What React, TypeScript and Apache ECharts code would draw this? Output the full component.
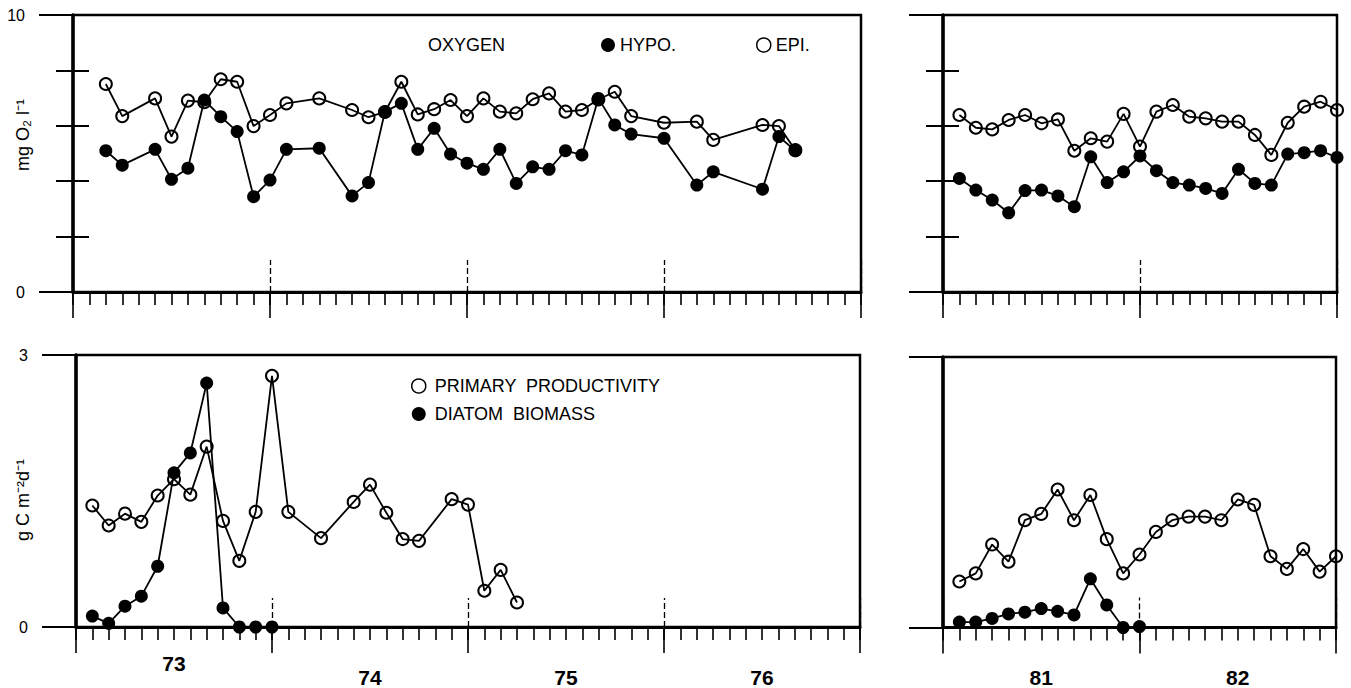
import React, { useEffect, useRef } from "react";
import * as echarts from "echarts";

const FONT = '"Liberation Sans", Arial, Helvetica, sans-serif';

// ---- Oxygen, 1973-1976 (month index from Jan 1973) ----
const oxyMonthsA = [2, 3, 5, 6, 7, 8, 9, 10, 11, 12, 13, 15, 17, 18, 19, 20, 21, 22, 23, 24, 25, 26, 27, 28, 29, 30, 31, 32, 33, 34, 36, 38, 39, 42, 43, 44];
const epiA = [7.51, 6.35, 6.99, 5.61, 6.91, 6.85, 7.68, 7.59, 5.99, 6.39, 6.81, 6.99, 6.57, 6.31, 6.5, 7.59, 6.41, 6.6, 6.93, 6.35, 6.99, 6.51, 6.45, 6.96, 7.17, 6.51, 6.57, 6.95, 7.23, 6.35, 6.11, 6.15, 5.49, 6.03, 5.99, 5.12];
const hypoA = [5.1, 4.58, 5.15, 4.07, 4.47, 6.93, 6.33, 5.79, 3.44, 4.04, 5.15, 5.19, 3.47, 3.95, 6.51, 6.81, 5.15, 5.91, 4.98, 4.65, 4.43, 5.15, 3.92, 4.52, 4.43, 5.1, 4.95, 6.99, 6.03, 5.7, 5.55, 3.86, 4.34, 3.71, 5.61, 5.1];

// ---- Oxygen, 1981-1982 (month index from Jan 1981) ----
const oxyMonthsB = [1, 2, 3, 4, 5, 6, 7, 8, 9, 10, 11, 12, 13, 14, 15, 16, 17, 18, 19, 20, 21, 22, 23, 24];
const epiB = [6.39, 5.93, 5.87, 6.21, 6.39, 6.09, 6.23, 5.1, 5.55, 5.43, 6.43, 5.25, 6.51, 6.75, 6.33, 6.27, 6.15, 6.15, 5.67, 4.95, 6.11, 6.69, 6.87, 6.57];
const hypoB = [4.1, 3.68, 3.32, 2.86, 3.66, 3.68, 3.47, 3.08, 4.88, 3.95, 4.34, 4.91, 4.38, 3.95, 3.86, 3.74, 3.56, 4.43, 3.92, 3.86, 4.98, 5.03, 5.1, 4.86];

// ---- Primary productivity & diatom biomass, 1973-1976 ----
const ppMonthsA = [1, 2, 3, 4, 5, 6, 7, 8, 9, 10, 11, 12, 13, 15, 17, 18, 19, 20, 21, 23, 24, 25, 26, 27];
const ppA = [1.34, 1.12, 1.25, 1.16, 1.45, 1.63, 1.46, 1.99, 1.17, 0.73, 1.27, 2.77, 1.27, 0.98, 1.38, 1.57, 1.26, 0.97, 0.95, 1.41, 1.35, 0.4, 0.63, 0.27];
const diatomMonthsA = [1, 2, 3, 4, 5, 6, 7, 8, 9, 10, 11, 12];
const diatomA = [0.12, 0.04, 0.23, 0.34, 0.67, 1.7, 1.92, 2.69, 0.21, 0, 0, 0];

// ---- Primary productivity & diatom biomass, 1981-1982 ----
const ppMonthsB = [1, 2, 3, 4, 5, 6, 7, 8, 9, 10, 11, 12, 13, 14, 15, 16, 17, 18, 19, 20, 21, 22, 23, 24];
const ppB = [0.51, 0.6, 0.92, 0.73, 1.19, 1.26, 1.53, 1.19, 1.47, 0.98, 0.6, 0.81, 1.06, 1.19, 1.23, 1.23, 1.19, 1.42, 1.36, 0.79, 0.65, 0.87, 0.62, 0.79];
const diatomMonthsB = [1, 2, 3, 4, 5, 6, 7, 8, 9, 10, 11, 12];
const diatomB = [0.06, 0.06, 0.1, 0.15, 0.17, 0.21, 0.18, 0.14, 0.54, 0.25, 0, 0.01];

// ---- tick labels ----
const yearsLeft = ["73", "74", "75", "76"];
const yearsRight = ["81", "82"];

const NAME_EPI = "EPI.";
const NAME_HYPO = "HYPO.";
const NAME_PP = "PRIMARY  PRODUCTIVITY";
const NAME_DIATOM = "DIATOM  BIOMASS";

function pairs(xs: number[], ys: number[]) {
  return xs.map((x, i) => [x, ys[i]]);
}

export default function App() {
  const ref = useRef<HTMLDivElement>(null);

  useEffect(() => {
    if (!ref.current) return;
    const chart = echarts.init(ref.current, undefined, { renderer: "svg" });

    const grids = [
      { left: 73, top: 15, width: 788, height: 277 },
      { left: 943, top: 15, width: 394, height: 277 },
      { left: 76, top: 355, width: 784, height: 272 },
      { left: 943, top: 357, width: 393, height: 272 },
    ].map((g) => ({
      ...g,
      show: true,
      borderColor: "#000",
      borderWidth: 2.5,
      backgroundColor: "transparent",
      containLabel: false,
    }));

    const xAxes: any[] = [];
    const yAxes: any[] = [];
    const xMain: number[] = [];
    const yMain: number[] = [];

    const addX = (g: number, max: number, insideLen: number, years?: string[]) => {
      xMain.push(xAxes.length);
      xAxes.push({
        gridIndex: g, type: "value", position: "bottom", min: 0, max, interval: 1,
        axisLine: { show: true, onZero: false, lineStyle: { color: "#000", width: 3 } },
        axisTick: { show: true, length: 13, lineStyle: { color: "#000", width: 1.6 } },
        axisLabel: { show: false }, splitLine: { show: false },
      });
      xAxes.push({
        gridIndex: g, type: "value", position: "bottom", min: 0, max, interval: 12,
        axisLine: { show: false, onZero: false },
        axisTick: { show: true, length: 26, lineStyle: { color: "#000", width: 1.6 } },
        axisLabel: { show: false }, splitLine: { show: false },
      });
      xAxes.push({
        gridIndex: g, type: "value", position: "bottom", min: 0, max, interval: 12,
        axisLine: { show: false, onZero: false },
        axisTick: { show: true, inside: true, length: insideLen, lineStyle: { color: "#000", width: 1.3, type: [6, 3] } },
        axisLabel: { show: false }, splitLine: { show: false },
      });
      if (years) {
        xAxes.push({
          gridIndex: g, type: "value", position: "bottom", min: 0, max, interval: 6,
          axisLine: { show: false, onZero: false },
          axisTick: { show: false },
          splitLine: { show: false },
          axisLabel: {
            show: true, margin: 26,
            formatter: (v: number) => {
              if (v % 12 !== 6) return "";
              const i = (v - 6) / 12;
              const s = years[i];
              if (s === undefined) return "";
              return i === 0 && years === yearsLeft ? `{hi|${s}}` : `{lo|${s}}`;
            },
            rich: {
              hi: { fontSize: 21, fontWeight: "bold", fontFamily: FONT, color: "#000", lineHeight: 20 },
              lo: { fontSize: 21, fontWeight: "bold", fontFamily: FONT, color: "#000", lineHeight: 48 },
            },
          },
        });
      }
    };

    const addY = (g: number, max: number, labels: boolean, minorTicks: boolean) => {
      yMain.push(yAxes.length);
      yAxes.push({
        gridIndex: g, type: "value", position: "left", min: 0, max, interval: max,
        axisLine: { show: true, onZero: false, lineStyle: { color: "#000", width: 3.5 } },
        axisTick: { show: true, length: 34, lineStyle: { color: "#000", width: 2.2 } },
        axisLabel: { show: labels, margin: 48, fontSize: 16, color: "#000", fontFamily: FONT },
        splitLine: { show: false },
      });
      if (minorTicks) {
        yAxes.push({
          gridIndex: g, type: "value", position: "left", min: 0, max, interval: 2,
          axisLine: { show: false, onZero: false },
          axisTick: { show: true, length: 17, lineStyle: { color: "#000", width: 2 } },
          axisLabel: { show: false }, splitLine: { show: false },
        });
        yAxes.push({
          gridIndex: g, type: "value", position: "left", min: 0, max, interval: 2,
          axisLine: { show: false, onZero: false },
          axisTick: { show: true, inside: true, length: 16, lineStyle: { color: "#000", width: 2 } },
          axisLabel: { show: false }, splitLine: { show: false },
        });
      }
    };

    addX(0, 48, 32);
    addX(1, 24, 32);
    addX(2, 48, 29, yearsLeft);
    addX(3, 24, 30, yearsRight);
    addY(0, 10, true, true);
    addY(1, 10, false, true);
    addY(2, 3, true, false);
    addY(3, 3, false, false);

    const openSeries = (name: string, g: number, data: number[][]) => ({
      name, type: "line", xAxisIndex: xMain[g], yAxisIndex: yMain[g], data,
      symbol: "circle", symbolSize: 12,
      lineStyle: { color: "#000", width: 1.8 },
      itemStyle: { color: "rgba(0,0,0,0)", borderColor: "#000", borderWidth: 2 },
      emphasis: { disabled: true },
      z: 2,
    });
    const filledSeries = (name: string, g: number, data: number[][]) => ({
      name, type: "line", xAxisIndex: xMain[g], yAxisIndex: yMain[g], data,
      symbol: "circle", symbolSize: 13,
      lineStyle: { color: "#000", width: 1.8 },
      itemStyle: { color: "#000", borderColor: "#000", borderWidth: 0 },
      emphasis: { disabled: true },
      z: 3,
    });

    const series = [
      openSeries(NAME_EPI, 0, pairs(oxyMonthsA, epiA)),
      filledSeries(NAME_HYPO, 0, pairs(oxyMonthsA, hypoA)),
      openSeries(NAME_EPI, 1, pairs(oxyMonthsB, epiB)),
      filledSeries(NAME_HYPO, 1, pairs(oxyMonthsB, hypoB)),
      openSeries(NAME_PP, 2, pairs(ppMonthsA, ppA)),
      filledSeries(NAME_DIATOM, 2, pairs(diatomMonthsA, diatomA)),
      openSeries(NAME_PP, 3, pairs(ppMonthsB, ppB)),
      filledSeries(NAME_DIATOM, 3, pairs(diatomMonthsB, diatomB)),
    ];

    const hollow = { color: "#fff", borderColor: "#000", borderWidth: 1.5 };
    const solid = { color: "#000", borderColor: "#000", borderWidth: 0 };
    const legendText = { fontSize: 18, color: "#000", fontFamily: FONT };

    chart.setOption({
      animation: false,
      backgroundColor: "#fff",
      title: {
        text: "OXYGEN", left: 428, top: 36, padding: 0,
        textStyle: { fontSize: 18, fontWeight: "normal", color: "#000", fontFamily: FONT },
      },
      legend: [
        {
          data: [{ name: NAME_HYPO, icon: "circle", itemStyle: solid }],
          left: 601, top: 36, padding: 0, itemWidth: 14, itemHeight: 14,
          selectedMode: false, textStyle: legendText,
        },
        {
          data: [{ name: NAME_EPI, icon: "circle", itemStyle: hollow }],
          left: 756, top: 36, padding: 0, itemWidth: 14, itemHeight: 14,
          selectedMode: false, textStyle: legendText,
        },
        {
          data: [
            { name: NAME_PP, icon: "circle", itemStyle: hollow },
            { name: NAME_DIATOM, icon: "circle", itemStyle: solid },
          ],
          orient: "vertical", left: 411, top: 377, padding: 0, itemGap: 10,
          itemWidth: 14, itemHeight: 14, selectedMode: false,
          textStyle: { ...legendText, padding: [0, 0, 0, 4] },
        },
      ],
      grid: grids,
      xAxis: xAxes,
      yAxis: yAxes,
      series,
      graphic: [
        {
          type: "text", x: 23, y: 135, rotation: Math.PI / 2,
          style: { text: "mg O\u2082 l\u207B\u00B9", fontSize: 18, fill: "#000", align: "center", verticalAlign: "middle", fontFamily: FONT },
        },
        {
          type: "text", x: 23, y: 500, rotation: Math.PI / 2,
          style: { text: "g C m\u207B\u00B2d\u207B\u00B9", fontSize: 18, fill: "#000", align: "center", verticalAlign: "middle", fontFamily: FONT },
        },
      ],
    });

    return () => chart.dispose();
  }, []);

  return (
    <div
      ref={ref}
      style={{ position: "absolute", left: 0, top: 0, width: 1351, height: 688, background: "#fff" }}
    />
  );
}
